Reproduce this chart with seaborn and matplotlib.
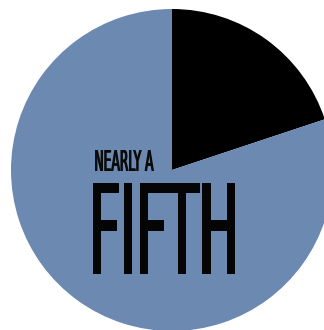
import numpy as np
import matplotlib
matplotlib.use("Agg")
import matplotlib.pyplot as plt
import seaborn as sns
from matplotlib.patheffects import AbstractPathEffect
from matplotlib.transforms import Affine2D

# ---- data ----
labels = ["Share", "Rest"]
values = [19.9, 80.1]
colors = ["#000000", "#6b89b1"]
kicker = "NEARLY A"
headline = "FIFTH"

sns.set_theme(style="white")
plt.rcParams["font.family"] = ["DejaVu Sans"]


class Condensed(AbstractPathEffect):
    """Draw the text path as a tall condensed face: ink box of width_px x cap_px."""

    def __init__(self, width_px, cap_px, bold_px=0.0):
        super().__init__()
        self.width_px = width_px
        self.cap_px = cap_px
        self.bold_px = bold_px

    def draw_path(self, renderer, gc, tpath, affine, rgbFace=None):
        ext = affine.transform_path(tpath).get_extents()
        base_y = affine.transform((0, 0))[1]
        sx = (self.width_px - self.bold_px) / ext.width
        sy = self.cap_px / (ext.y1 - base_y)
        base = affine + (Affine2D().translate(-ext.x0, -base_y)
                         .scale(sx, sy).translate(ext.x0, base_y))
        n = max(1, int(round(self.bold_px * 2)) + 1)
        for dx in np.linspace(0, self.bold_px, n):
            renderer.draw_path(gc, tpath, base + Affine2D().translate(dx, 0), rgbFace)


W, H = 324, 330
fig = plt.figure(figsize=(W / 100, H / 100), dpi=100)
fig.patch.set_facecolor("white")

cx, cy, r = 172, 170, 161
ax = fig.add_axes([(cx - r) / W, (H - cy - r) / H, 2 * r / W, 2 * r / H])
ax.pie(values, colors=colors, startangle=90, counterclock=False,
       wedgeprops=dict(linewidth=0, edgecolor="none"), radius=1)
ax.set_xlim(-1, 1)
ax.set_ylim(-1, 1)
ax.set_aspect("equal")
ax.axis("off")

fig.text(92.2 / W, (H - 171) / H, kicker, fontsize=20.7, color="#0a0a0a",
         ha="left", va="baseline",
         path_effects=[Condensed(59, 21, bold_px=1.2)])
fig.text(85.0 / W, (H - 274) / H, headline, fontsize=60, color="#050505",
         ha="left", va="baseline",
         path_effects=[Condensed(142, 91, bold_px=3.0)])

fig.savefig("out.png", dpi=100, facecolor="white")
